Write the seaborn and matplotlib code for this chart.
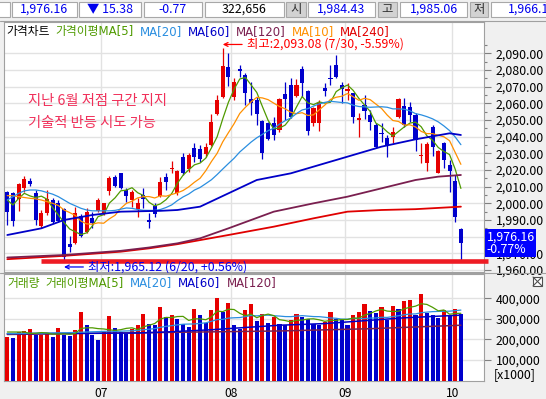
import numpy as np
import pandas as pd
import matplotlib
matplotlib.use("Agg")
import matplotlib.pyplot as plt
import matplotlib.transforms as mtransforms
from matplotlib.patches import Rectangle
from matplotlib.lines import Line2D
from matplotlib.ticker import FuncFormatter
import seaborn as sns

# ---------------- data ----------------
opens = [2006.6, 2006.0, 2002.4, 2009.0, 2013.6, 2006.0, 1986.4, 1994.0, 2002.0, 2000.0,
         1996.4, 1975.4, 1976.0, 1992.6, 1983.0, 1991.0, 1995.4, 1993.4, 2007.6, 2016.0,
         2018.0, 2008.0, 2002.0, 1996.4, 2005.0, 1990.0, 1998.4, 2004.4, 2016.0, 2020.4,
         2006.0, 2028.0, 2020.4, 2033.0, 2032.6, 2029.4, 2035.0, 2053.6, 2064.0, 2082.0,
         2063.6, 2080.4, 2077.0, 2062.4, 2062.0, 2049.4, 2048.0, 2048.0, 2044.0, 2065.6,
         2071.0, 2064.4, 2080.4, 2067.6, 2048.0, 2048.4, 2069.0, 2075.4, 2083.0, 2071.0,
         2067.6, 2066.0, 2050.0, 2059.0, 2053.0, 2047.0, 2042.4, 2039.0, 2039.6, 2051.6,
         2058.4, 2058.0, 2053.0, 2028.4, 2024.4, 2046.0, 2018.4, 2036.0, 2023.0, 2013.4,
         1984.43]
highs = [2007.5, 2007.0, 2012.4, 2016.6, 2015.0, 2008.0, 1996.0, 2008.0, 2003.0, 2002.0,
         1997.0, 1980.4, 1997.6, 1993.6, 1997.0, 1995.0, 2003.0, 2000.4, 2016.6, 2017.0,
         2018.4, 2009.0, 2008.0, 2003.0, 2009.0, 1994.0, 2000.0, 2016.0, 2018.4, 2025.4,
         2020.0, 2030.4, 2030.0, 2036.0, 2035.0, 2036.0, 2053.6, 2065.0, 2093.08, 2090.4,
         2075.0, 2083.0, 2078.0, 2073.0, 2064.0, 2050.0, 2049.0, 2052.0, 2063.0, 2073.0,
         2075.0, 2074.4, 2082.4, 2068.0, 2058.0, 2062.0, 2072.4, 2083.0, 2089.0, 2073.0,
         2072.4, 2066.4, 2054.0, 2065.0, 2056.0, 2048.0, 2048.0, 2041.0, 2046.0, 2063.0,
         2063.0, 2061.0, 2054.0, 2036.0, 2037.0, 2047.0, 2032.0, 2037.0, 2026.0, 2017.0,
         1985.06]
lows = [1987.0, 1986.4, 1995.6, 2007.0, 2010.6, 1987.0, 1985.4, 1993.0, 1988.0, 1989.0,
        1965.12, 1971.0, 1975.4, 1979.6, 1982.0, 1985.0, 1995.0, 1993.0, 2005.0, 2010.0,
        2008.4, 2001.0, 1998.0, 1992.0, 1997.0, 1985.0, 1992.0, 2004.0, 2008.0, 2018.0,
        2005.0, 2017.0, 2019.0, 2025.0, 2025.0, 2028.0, 2034.4, 2053.0, 2063.0, 2070.4,
        2062.0, 2075.6, 2059.0, 2053.0, 2047.0, 2026.4, 2038.0, 2038.0, 2043.0, 2050.0,
        2051.0, 2064.0, 2064.0, 2041.0, 2046.4, 2043.6, 2064.4, 2071.0, 2075.0, 2060.0,
        2062.0, 2048.4, 2040.0, 2050.4, 2044.0, 2033.0, 2037.0, 2028.0, 2036.0, 2051.4,
        2046.0, 2049.0, 2031.6, 2024.0, 2019.6, 2028.4, 2018.0, 2021.0, 2007.0, 1989.0,
        1966.17]
closes = [1995.0, 1989.6, 2011.6, 2014.6, 2011.4, 1990.0, 1994.0, 2002.4, 1989.0, 1989.6,
          1968.0, 1974.0, 1994.0, 1980.6, 1995.0, 1988.4, 2002.0, 2000.0, 2015.4, 2010.6,
          2009.4, 2004.4, 2007.0, 2000.4, 2002.4, 1989.0, 1993.6, 2013.0, 2013.0, 2021.0,
          2019.4, 2018.0, 2029.0, 2028.0, 2026.4, 2034.0, 2048.8, 2062.0, 2082.4, 2076.0,
          2073.0, 2079.6, 2066.4, 2060.0, 2053.6, 2030.4, 2038.4, 2041.0, 2062.4, 2062.4,
          2052.0, 2071.0, 2072.4, 2043.6, 2057.0, 2060.0, 2067.6, 2074.8, 2075.6, 2068.4,
          2068.4, 2051.6, 2051.0, 2055.6, 2049.0, 2033.5, 2041.4, 2035.0, 2043.0, 2062.6,
          2047.0, 2053.0, 2038.0, 2029.0, 2035.6, 2033.6, 2031.4, 2026.0, 2019.6, 1991.54,
          1976.16]
volumes = [214000, 205000, 236000, 240000, 249000, 219000, 222000, 226000, 211000, 255000,
           219000, 215000, 244000, 334000, 270000, 219000, 195000, 236000, 314000, 255000,
           236000, 228000, 249000, 269000, 324000, 274000, 270000, 359000, 308000, 319000,
           300000, 274000, 260000, 347000, 319000, 278000, 342000, 403000, 334000, 378000,
           270000, 250000, 344000, 373000, 290000, 326000, 282000, 308000, 274000, 269000,
           293000, 323000, 310000, 301000, 274000, 269000, 285000, 334000, 301000, 296000,
           269000, 318000, 334000, 372000, 339000, 329000, 356000, 293000, 362000, 346000,
           388000, 392000, 321000, 421000, 329000, 318000, 306000, 342000, 318000, 347000,
           322656]

month_labels = ["06", "07", "08", "09", "10"]
month_days = [17, 23, 20, 19, 2]

# moving-average values read where the window reaches before the first candle
ma5_head = [2002, 1999, 2003, 2006]
ma10_head = [2004.6, 2004.5, 2004, 2003.5, 2003, 2002.7, 2002, 2001, 2000]
ma20_head = [2002, 2004, 2006, 2007.5, 2008, 2008, 2007.5, 2006.5, 2005.5, 2004,
             2002, 2000, 1998.5, 1997, 1996, 1995.5, 1995.5, 1995.5, 1995.5]
ma60_days = [1, 7, 11, 16, 21, 28, 31, 35, 40, 45, 51, 56, 61, 67, 73, 79, 81]
ma60_vals = [1981, 1985, 1990, 1993, 1995, 1995.5, 1996, 1998, 2006, 2014, 2018, 2023,
             2028, 2034, 2038.4, 2042, 2041]
ma120_days = [1, 11, 21, 26, 31, 35, 40, 48, 55, 61, 67, 73, 77, 81]
ma120_vals = [1967.5, 1969, 1971.5, 1973.5, 1976, 1979, 1985, 1995, 2000, 2004, 2009,
              2014, 2016, 2017]
ma240_days = [1, 11, 21, 26, 31, 40, 48, 55, 61, 67, 73, 81]
ma240_vals = [1966.5, 1968.5, 1971, 1973, 1975.5, 1981, 1986, 1991, 1995, 1996, 1996.5, 1998]

vol_ma5_head = [236000, 236000, 236000, 236000]
vol_ma20_head = [228000, 228000, 229000, 229000, 230000, 230000, 230000, 231000, 231000,
                 232000, 232000, 233000, 234000, 235000, 236000, 237000, 238000, 239000,
                 240000]
vol_ma60_days = [1, 24, 29, 37, 49, 57, 65, 71, 77, 81]
vol_ma60_vals = [228000, 231000, 236000, 247000, 269000, 277000, 293000, 305000, 313000, 318000]
vol_ma120_days = [1, 49, 65, 81]
vol_ma120_vals = [224000, 241000, 252000, 269000]

price_ticks = list(range(1960, 2091, 10))
volume_ticks = [100000, 200000, 300000, 400000]

high_label = "최고:2,093.08 (7/30, -5.59%)"
low_label = "최저:1,965.12 (6/20, +0.56%)"
note_lines = ["지난 6월 저점 구간 지지", "기술적 반등 시도 가능"]

# ---------------- styling ----------------
RED = "#e60000"
BLUE = "#0000cc"
GREEN = "#4f9a00"
LBLUE = "#2a8ee0"
DBLUE = "#0000c8"
MAROON = "#7a1f4f"
ORANGE = "#ff9000"
MA_RED = "#e00000"
GRID = "#e2e2e2"
FRAME = "#a0a0a0"
NUM_SIZE = 8.9
WIDE_FAMILY = ["DejaVu Sans", "Noto Sans CJK KR"]

sns.set_theme(style="white")
plt.rcParams["font.family"] = ["Noto Sans CJK KR", "DejaVu Sans"]
plt.rcParams["axes.unicode_minus"] = False

W, H = 546, 399
def fx(px):
    return px / W
def fy(py):
    return 1 - py / H

PLOT_L, PLOT_R = 4, 484
P_TOP, P_BOT = 22, 272
V_TOP, V_BOT = 274, 380.5
C0_PX, STEP_PX = 7.3, 5.67
PX_PER_PT, Y2090_PX = 1.667, 53.3

fig = plt.figure(figsize=(W / 100, H / 100), dpi=100, facecolor="#f0f0f0")
ax_p = fig.add_axes([fx(PLOT_L), fy(P_BOT), (PLOT_R - PLOT_L) / W, (P_BOT - P_TOP) / H])
ax_v = fig.add_axes([fx(PLOT_L), fy(V_BOT), (PLOT_R - PLOT_L) / W, (V_BOT - V_TOP) / H])

o = np.array(opens); h = np.array(highs); l = np.array(lows); c = np.array(closes)
v = np.array(volumes, dtype=float)
n = len(c)
x = np.arange(n)

def rolling_with_head(vals, window, head):
    s = pd.Series(vals, dtype=float).rolling(window).mean().to_numpy()
    s[:window - 1] = head
    return s

ma5 = rolling_with_head(c, 5, ma5_head)
ma10 = rolling_with_head(c, 10, ma10_head)
ma20 = rolling_with_head(c, 20, ma20_head)
vma5 = rolling_with_head(v, 5, vol_ma5_head)
vma20 = rolling_with_head(v, 20, vol_ma20_head)

xlim = ((PLOT_L - C0_PX) / STEP_PX, (PLOT_R - C0_PX) / STEP_PX)
ylim_p = (2090 - (P_BOT - Y2090_PX) / PX_PER_PT, 2090 + (Y2090_PX - P_TOP) / PX_PER_PT)
ylim_v = (0, 400000 * (V_BOT - V_TOP) / (V_BOT - 298.3))

bounds = np.cumsum(month_days)[:-1] - 0.5

# ---------------- price panel ----------------
ax_p.set_facecolor("white")
up = c >= o
col = np.where(up, RED, BLUE)
ax_p.vlines(x, l, h, colors=col, lw=0.9, zorder=3)
ax_p.bar(x, np.maximum(np.abs(c - o), 0.6), bottom=np.minimum(o, c), width=0.72,
         color=col, linewidth=0, zorder=4)

for yv, colr, lw in [(ma5, GREEN, 0.9), (ma10, ORANGE, 0.9), (ma20, LBLUE, 0.9)]:
    sns.lineplot(x=x, y=yv, ax=ax_p, color=colr, lw=lw, errorbar=None, zorder=5)
for days, vals, colr in [(ma240_days, ma240_vals, MA_RED), (ma120_days, ma120_vals, MAROON),
                         (ma60_days, ma60_vals, DBLUE)]:
    sns.lineplot(x=np.array(days) - 1, y=vals, ax=ax_p, color=colr, lw=1.3, errorbar=None, zorder=5)

ax_p.set_xlim(*xlim)
ax_p.set_ylim(*ylim_p)
ax_p.set_xlabel(""); ax_p.set_ylabel("")
ax_p.set_xticks(bounds)
ax_p.tick_params(axis="x", length=0, labelbottom=False)
ax_p.yaxis.tick_right()
ax_p.set_yticks(price_ticks)
ax_p.set_yticks([t + 5 for t in price_ticks], minor=True)
# the label lying under the current-price box is hidden by it in the original
ax_p.yaxis.set_major_formatter(
    FuncFormatter(lambda val, pos: "" if abs(val - closes[-1]) < 5 else f"{val:,.2f}"))
ax_p.tick_params(axis="y", which="major", direction="out", length=5, width=0.8,
                 color="#808080", pad=3.6, labelsize=NUM_SIZE, labelcolor="black")
ax_p.tick_params(axis="y", which="minor", direction="out", length=2.5, width=0.8, color="#808080")
ax_p.grid(True, which="major", color=GRID, lw=1.0)
ax_p.set_axisbelow(True)
for sp in ax_p.spines.values():
    sp.set_color(FRAME); sp.set_linewidth(0.8)

# support line at the June low
lo_i = int(np.argmin(l)); hi_i = int(np.argmax(h))
blend = mtransforms.blended_transform_factory(ax_p.transAxes, ax_p.transData)
ax_p.add_line(Line2D([(41 - PLOT_L) / (PLOT_R - PLOT_L), (488 - PLOT_L) / (PLOT_R - PLOT_L)],
                     [l[lo_i] + 0.5, l[lo_i] + 0.5], transform=blend, color="#ee1c24",
                     lw=3.3, solid_capstyle="butt", clip_on=False, zorder=6))

up_off = mtransforms.offset_copy(ax_p.transData, fig=fig, x=0, y=3.7, units="dots")
ax_p.annotate(high_label, xy=(hi_i, h[hi_i]), xycoords=up_off, xytext=(24, 0),
              textcoords="offset pixels", ha="left", va="center", color="#ff0000", fontsize=8.9,
              arrowprops=dict(arrowstyle="->", color="#ff0000", lw=0.9, shrinkA=1, shrinkB=0,
                              mutation_scale=7), annotation_clip=False, zorder=8)
dn_off = mtransforms.offset_copy(ax_p.transData, fig=fig, x=0, y=-5.5, units="dots")
ax_p.annotate(low_label, xy=(lo_i, l[lo_i]), xycoords=dn_off, xytext=(24, 0),
              textcoords="offset pixels", ha="left", va="center", color="#0000ee", fontsize=8.9,
              arrowprops=dict(arrowstyle="->", color="#0000ee", lw=0.9, shrinkA=1, shrinkB=0,
                              mutation_scale=7), annotation_clip=False, zorder=8)

# current price box
pct = (c[-1] / c[-2] - 1) * 100
ax_p.annotate(f"{c[-1]:,.2f}\n{pct:.2f}%", xy=(1.0, c[-1]), xycoords=blend, xytext=(2.5, 0),
              textcoords="offset pixels", ha="left", va="center", color="white", fontsize=NUM_SIZE,
              linespacing=0.92, bbox=dict(boxstyle="square,pad=0.1", fc="#0000ff", ec="none"),
              annotation_clip=False, zorder=10)

# ---------------- volume panel ----------------
ax_v.set_facecolor("white")
vol_dir = np.where(np.concatenate([[True], v[1:] > v[:-1]]), "up", "down")
vdf = pd.DataFrame({"day": x, "volume": v, "dir": vol_dir})
sns.barplot(data=vdf, x="day", y="volume", hue="dir", palette={"up": RED, "down": BLUE},
            native_scale=True, dodge=False, width=0.72, saturation=1, errorbar=None,
            legend=False, ax=ax_v, linewidth=0, zorder=3)
sns.lineplot(x=np.array(vol_ma120_days) - 1, y=vol_ma120_vals, ax=ax_v, color=MAROON, lw=1.1,
             errorbar=None, zorder=5)
sns.lineplot(x=np.array(vol_ma60_days) - 1, y=vol_ma60_vals, ax=ax_v, color=DBLUE, lw=1.1,
             errorbar=None, zorder=5)
sns.lineplot(x=x, y=vma20, ax=ax_v, color=LBLUE, lw=0.9, errorbar=None, zorder=5)
sns.lineplot(x=x, y=vma5, ax=ax_v, color=GREEN, lw=0.9, errorbar=None, zorder=5)

ax_v.set_xlim(*xlim)
ax_v.set_ylim(*ylim_v)
ax_v.set_xlabel(""); ax_v.set_ylabel("")
ax_v.set_xticks(bounds)
ax_v.set_xticklabels(month_labels[1:])
ax_v.tick_params(axis="x", length=0, pad=5, labelsize=8.7, labelcolor="black")
ax_v.yaxis.tick_right()
ax_v.set_yticks(volume_ticks)
ax_v.yaxis.set_major_formatter(FuncFormatter(lambda val, pos: f"{val:,.0f}"))
ax_v.tick_params(axis="y", direction="out", length=5, width=0.8, color="#808080", pad=3.6,
                 labelsize=NUM_SIZE, labelcolor="black")
ax_v.grid(True, color=GRID, lw=1.0)
ax_v.set_axisbelow(True)
for sp in ax_v.spines.values():
    sp.set_color(FRAME); sp.set_linewidth(0.8)
fig.text(fx(494), fy(375), "[x1000]", fontsize=NUM_SIZE, ha="left", va="center", color="black")

# ---------------- header row ----------------
chg = c[-1] - c[-2]
header = [
    (-12, 10, "white", "", "black"),
    (12.2, 76.7, "white", f"{c[-1]:,.2f}", "#0000ee"),
    (79.4, 141, "white", f"▼ {abs(chg):.2f}", "#0000ee"),
    (143.9, 202, "white", f"{pct:.2f}", "#0000ee"),
    (204.9, 284, "white", f"{int(v[-1]):,}", "black"),
    (286.4, 306, "#d2d2d2", "시", "#303030"),
    (308.4, 374.6, "white", f"{o[-1]:,.2f}", "#0000ee"),
    (378, 397, "#d2d2d2", "고", "#303030"),
    (400, 467, "white", f"{h[-1]:,.2f}", "#0000ee"),
    (469.7, 487.8, "#d2d2d2", "저", "#303030"),
    (491, 572, "white", f"{l[-1]:,.2f}", "#0000ee"),
]
for x0, x1, fc, txt, tc in header:
    fig.add_artist(Rectangle((fx(x0), fy(17.4)), (x1 - x0) / W, 15.7 / H, transform=fig.transFigure,
                             facecolor=fc, edgecolor="#a8a8a8", lw=0.8))
    if txt:
        fig.text(fx((x0 + x1) / 2), fy(9.6), txt, ha="center", va="center", fontsize=NUM_SIZE,
                 color=tc)

for yy in (21, 273):
    fig.add_artist(Line2D([0, 1], [fy(yy), fy(yy)], transform=fig.transFigure, color=FRAME, lw=0.8))

# legends (chained text)
renderer = fig.canvas.get_renderer()
def chain(items, x_px, y_px, size=8.5, gap=6):
    xx = x_px
    for label, colr in items:
        t = fig.text(fx(xx), fy(y_px), label, color=colr, fontsize=size, ha="left", va="center",
                     family=WIDE_FAMILY, zorder=9)
        bb = t.get_window_extent(renderer=renderer)
        xx = bb.x1 + gap

chain([("가격차트", "black"), ("가격이평MA[5]", GREEN), ("MA[20]", LBLUE), ("MA[60]", DBLUE),
       ("MA[120]", MAROON), ("MA[10]", ORANGE), ("MA[240]", MA_RED)], 6, 32)
chain([("거래량", GREEN), ("거래이평MA[5]", GREEN), ("MA[20]", LBLUE), ("MA[60]", DBLUE),
       ("MA[120]", MAROON)], 7, 283)

# commentary text
for yy, line in zip((101, 123.3), note_lines):
    fig.text(fx(28), fy(yy), line, color="#f0305a", fontsize=10.3, ha="left", va="center")

# small close icon at top right of volume panel
ix0, ix1, iy0, iy1 = 533, 542, 277, 286
fig.add_artist(Rectangle((fx(ix0), fy(iy1)), (ix1 - ix0) / W, (iy1 - iy0) / H,
                         transform=fig.transFigure, facecolor="white", edgecolor="#505050", lw=0.8))
fig.add_artist(Line2D([fx(ix0), fx(ix1)], [fy(iy0), fy(iy1)], transform=fig.transFigure,
                      color="#505050", lw=0.8))
fig.add_artist(Line2D([fx(ix0), fx(ix1)], [fy(iy1), fy(iy0)], transform=fig.transFigure,
                      color="#505050", lw=0.8))

fig.savefig("out.png", dpi=100, facecolor=fig.get_facecolor())
